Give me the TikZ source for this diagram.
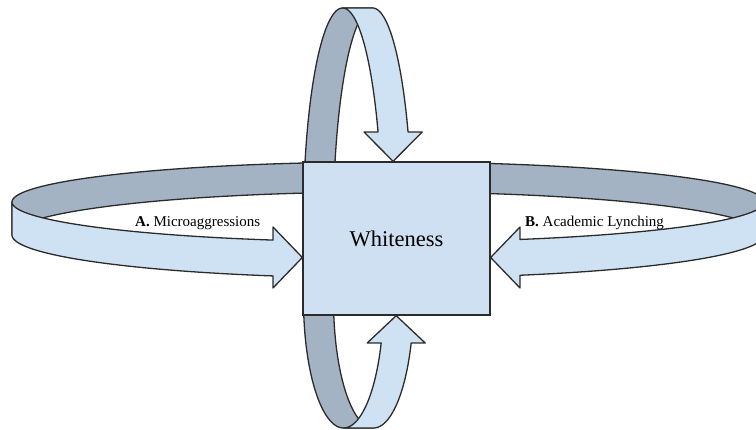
\documentclass[tikz,border=0pt]{standalone}
\usepackage{fontspec}
\setmainfont{Liberation Serif}
\definecolor{bandfront}{HTML}{CFE2F3}
\definecolor{bandback}{HTML}{A3B3C4}
\definecolor{boxfill}{HTML}{CEE0F1}
\definecolor{edge}{HTML}{2B2B2B}

\begin{document}
\begin{tikzpicture}[x=1pt, y=-1pt,
	front/.style={fill=bandfront, draw=edge, line width=1.3pt, line join=round},
	back/.style={fill=bandback, draw=edge, line width=1.3pt, line join=round},
	tag/.style={anchor=base west, inner sep=0pt, font=\fontsize{15}{18}\selectfont}]
	\useasboundingbox (0,0) rectangle (756,430);
	\clip (0,0) rectangle (756,430);

	% back halves
	\draw[back, domain=180:360, variable=\t, samples=120, smooth]
		plot ({388+376*cos(\t)}, {202+40*sin(\t)})
		-- plot[domain=360:180] ({388+376*cos(\t)}, {235+43*sin(\t)}) -- cycle;
	\draw[back, domain=270:180, variable=\t, samples=60, smooth]
		plot ({342.6+39.4*cos(\t)}, {228+220*sin(\t)})
		-- plot[domain=180:90] ({343.5+40*cos(\t)}, {300+128*sin(\t)})
		-- plot[domain=90:180] ({373.5+40*cos(\t)}, {300+128*sin(\t)})
		-- plot[domain=180:270] ({372.6+39.4*cos(\t)}, {228+220*sin(\t)}) -- cycle;

	\node[draw=edge, fill=boxfill, line width=1.3pt, minimum width=187pt, minimum height=153pt, inner sep=0pt,
		font=\fontsize{22.5}{26}\selectfont] (whiteness) at (396.5,238.5) {Whiteness};

	% front halves, ending in the heads
	\draw[front, domain=180:107.8, variable=\t, samples=60, smooth]
		plot ({388+376*cos(\t)}, {202+40*sin(\t)})
		-- (273,227) -- (whiteness.west |- 0,257.5) -- (273,288)
		-- plot[domain=107.8:180] ({388+376*cos(\t)}, {235+43*sin(\t)}) -- cycle;
	\draw[front, domain=0:69.45, variable=\t, samples=60, smooth]
		plot ({388+376*cos(\t)}, {202+40*sin(\t)})
		-- (520,227) -- (whiteness.east |- 0,257.5) -- (520,288)
		-- plot[domain=69.45:0] ({388+376*cos(\t)}, {235+43*sin(\t)}) -- cycle;
	\draw[front, domain=270:334.1, variable=\t, samples=60, smooth]
		plot ({342.6+39.4*cos(\t)}, {228+220*sin(\t)})
		-- (364,132) -- (whiteness.north -| 393.1,0) -- (422.2,132)
		-- plot[domain=334.1:270] ({372.6+39.4*cos(\t)}, {228+220*sin(\t)}) -- cycle;
	\draw[front, domain=90:19.6, variable=\t, samples=60, smooth]
		plot ({343.5+40*cos(\t)}, {300+128*sin(\t)})
		-- (367.2,343) -- (whiteness.south -| 396.2,0) -- (425.2,343)
		-- plot[domain=19.6:90] ({373.5+40*cos(\t)}, {300+128*sin(\t)}) -- cycle;

	\node[tag] (microaggressions) at (135,227) {\textbf{A.} Microaggressions};
	\node[tag] (lynching) at (525,227) {\textbf{B.} Academic Lynching};
\end{tikzpicture}
\end{document}
